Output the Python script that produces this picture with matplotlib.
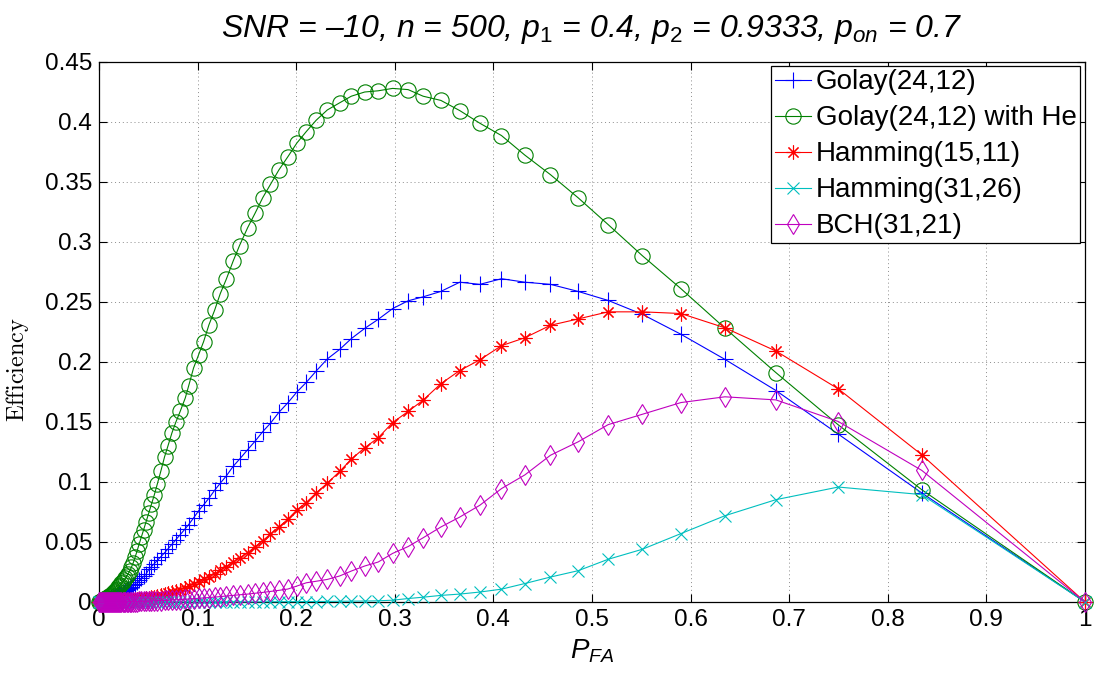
import matplotlib
matplotlib.use("Agg")
import matplotlib.pyplot as plt
from matplotlib.ticker import FixedLocator, FixedFormatter

plt.rcParams['mathtext.fontset'] = 'custom'
plt.rcParams['mathtext.it'] = 'Liberation Sans:italic'
plt.rcParams['mathtext.rm'] = 'Liberation Sans'
plt.rcParams['mathtext.sf'] = 'Liberation Sans'
plt.rcParams['font.family'] = ['Liberation Sans', 'DejaVu Sans']

# Shared P_FA grid
p_fa = [0, 0.0008, 0.0017, 0.0027, 0.0037, 0.0047, 0.0057, 0.0067, 0.0077, 0.0087,
        0.0097, 0.0107, 0.0117, 0.0128, 0.0139, 0.0150, 0.0161, 0.0172, 0.0182,
        0.0193, 0.0204, 0.0215, 0.0227, 0.0239, 0.0252, 0.0266, 0.0281, 0.0296, 0.0312,
        0.0329, 0.0347, 0.0366, 0.0386, 0.0407, 0.0429, 0.0453, 0.0478, 0.0504, 0.0532,
        0.0561, 0.0592, 0.0627,
        0.0665, 0.0699, 0.0740, 0.0780, 0.0824, 0.0875, 0.0909, 0.0959, 0.1010, 0.1061,
        0.1115, 0.1172, 0.1230, 0.1291, 0.1360, 0.1425,
        0.1508, 0.1583, 0.1661, 0.1739, 0.1824, 0.1915, 0.2007, 0.2102, 0.2203, 0.2315,
        0.2441, 0.2559, 0.2695, 0.2831, 0.2978,
        0.3135, 0.3287, 0.3467, 0.3659, 0.3862, 0.4082, 0.4319, 0.4579, 0.4860, 0.5164,
        0.5509, 0.5902, 0.6348, 0.6866, 0.7498, 0.8344, 1.0]

golay = [0, 0.0001, 0.0003, 0.0005, 0.0007, 0.0010, 0.0012, 0.0015, 0.0018, 0.0021,
         0.0024, 0.0027, 0.0030, 0.0034, 0.0038, 0.0042, 0.0046, 0.0050, 0.0054,
         0.0058, 0.0063, 0.0068, 0.0073, 0.0078, 0.0084, 0.0091, 0.0098, 0.0106, 0.0115,
         0.0126, 0.0138, 0.0151, 0.0165, 0.0180, 0.0196, 0.0214, 0.0233, 0.0272, 0.0295,
         0.0320, 0.0347, 0.0377,
         0.0410, 0.0442, 0.0481, 0.0520, 0.0561, 0.0611, 0.0645, 0.0700, 0.0760, 0.0810,
         0.0865, 0.0930, 0.0990, 0.1050, 0.1130, 0.1190,
         0.1270, 0.1340, 0.1420, 0.1490, 0.1580, 0.1660, 0.1750, 0.1830, 0.1925, 0.2025,
         0.2105, 0.2195, 0.2280, 0.2355, 0.2445,
         0.2510, 0.2543, 0.2588, 0.2665, 0.2647, 0.2694, 0.2665, 0.2647, 0.2588, 0.2513,
         0.2398, 0.2231, 0.2022, 0.1762, 0.1399, 0.0909, 0]

golay_he = [0, 0.0003, 0.0007, 0.0012, 0.0017, 0.0022, 0.0027, 0.0032, 0.0037, 0.0042,
            0.0047, 0.0052, 0.0058, 0.0065, 0.0072, 0.0080, 0.0090, 0.0100, 0.0110,
            0.0121, 0.0132, 0.0143, 0.0155, 0.0167, 0.0180, 0.0196, 0.0215, 0.0236, 0.0260,
            0.0290, 0.0326, 0.0372, 0.0425, 0.0482, 0.0540, 0.0603, 0.0670, 0.0740, 0.0815,
            0.0893, 0.0985, 0.1090,
            0.1210, 0.1300, 0.1410, 0.1500, 0.1590, 0.1700, 0.1800, 0.1950, 0.2060, 0.2170,
            0.2310, 0.2430, 0.2570, 0.2690, 0.2840, 0.2970,
            0.3120, 0.3240, 0.3370, 0.3480, 0.3600, 0.3710, 0.3825, 0.3920, 0.4015, 0.4100,
            0.4160, 0.4215, 0.4250, 0.4260, 0.4280,
            0.4270, 0.4215, 0.4180, 0.4095, 0.3990, 0.3887, 0.3724, 0.3561, 0.3368, 0.3145,
            0.2887, 0.2611, 0.2282, 0.1911, 0.1476, 0.0936, 0]

hamming15 = [0, 0.0000, 0.0000, 0.0001, 0.0001, 0.0001, 0.0002, 0.0002, 0.0003, 0.0003,
             0.0004, 0.0004, 0.0005, 0.0005, 0.0006, 0.0007, 0.0007, 0.0008, 0.0009,
             0.0009, 0.0010, 0.0011, 0.0012, 0.0012, 0.0013, 0.0014, 0.0015, 0.0016, 0.0017,
             0.0018, 0.0020, 0.0021, 0.0023, 0.0025, 0.0027, 0.0029, 0.0032, 0.0035, 0.0039,
             0.0043, 0.0049, 0.0055,
             0.0063, 0.0071, 0.0081, 0.0092, 0.0104, 0.0120, 0.0132, 0.0150, 0.0169, 0.0189,
             0.0211, 0.0236, 0.0264, 0.0295, 0.0333, 0.0366,
             0.0412, 0.0460, 0.0512, 0.0566, 0.0625, 0.0690, 0.0768, 0.0829, 0.0910, 0.0990,
             0.1088, 0.1190, 0.1286, 0.1368, 0.1495,
             0.1588, 0.1682, 0.1819, 0.1929, 0.2018, 0.2136, 0.2202, 0.2306, 0.2359, 0.2418,
             0.2418, 0.2404, 0.2285, 0.2091, 0.1776, 0.1227, 0]

hamming31 = [0, 0, 0, 0, 0, 0, 0, 0, 0, 0,
             0, 0, 0, 0, 0, 0, 0, 0, 0,
             0, 0, 0, 0, 0, 0, 0, 0, 0, 0,
             0, 0, 0, 0, 0, 0, 0, 0, 0, 0,
             0, 0, 0,
             0.0000, 0.0000, 0.0000, 0.0000, 0.0000, 0.0000, 0.0000, 0.0000, 0.0000, 0.0001,
             0.0001, 0.0001, 0.0001, 0.0001, 0.0001, 0.0001,
             0.0001, 0.0001, 0.0002, 0.0002, 0.0002, 0.0003, 0.0003, 0.0004, 0.0004, 0.0005,
             0.0006, 0.0007, 0.0008, 0.0010, 0.0015,
             0.0029, 0.0040, 0.0055, 0.0066, 0.0083, 0.0107, 0.0154, 0.0208, 0.0261, 0.0356,
             0.0439, 0.0570, 0.0719, 0.0853, 0.0958, 0.0895, 0]

bch = [0, 0, 0, 0, 0, 0, 0, 0, 0, 0,
       0, 0, 0, 0.0001, 0.0001, 0.0001, 0.0001, 0.0001, 0.0001,
       0.0001, 0.0001, 0.0001, 0.0002, 0.0002, 0.0002, 0.0002, 0.0002, 0.0003, 0.0003,
       0.0003, 0.0004, 0.0004, 0.0004, 0.0005, 0.0006, 0.0006, 0.0007, 0.0008, 0.0009,
       0.0010, 0.0011, 0.0012,
       0.0013, 0.0015, 0.0016, 0.0018, 0.0020, 0.0023, 0.0025, 0.0028, 0.0031, 0.0034,
       0.0037, 0.0041, 0.0045, 0.0050, 0.0055, 0.0060,
       0.0066, 0.0073, 0.0080, 0.0088, 0.0097, 0.0108, 0.0133, 0.0160, 0.0173, 0.0188,
       0.0217, 0.0258, 0.0300, 0.0333, 0.0405,
       0.0462, 0.0535, 0.0625, 0.0708, 0.0806, 0.0945, 0.1059, 0.1223, 0.1335, 0.1478,
       0.1564, 0.1662, 0.1710, 0.1684, 0.1504, 0.1097, 0]

labels = ['Golay(24,12)', 'Golay(24,12) with He', 'Hamming(15,11)',
          'Hamming(31,26)', 'BCH(31,21)']
x_ticks = [0, 0.1, 0.2, 0.3, 0.4, 0.5, 0.6, 0.7, 0.8, 0.9, 1]
x_tick_labels = ['0', '0.1', '0.2', '0.3', '0.4', '0.5', '0.6', '0.7', '0.8', '0.9', '1']
y_ticks = [0, 0.05, 0.1, 0.15, 0.2, 0.25, 0.3, 0.35, 0.4, 0.45]
y_tick_labels = ['0', '0.05', '0.1', '0.15', '0.2', '0.25', '0.3', '0.35', '0.4', '0.45']

series = [golay, golay_he, hamming15, hamming31, bch]
colors = ['#0000ff', '#008000', '#ff0000', '#00bfbf', '#bf00bf']
markers = ['+', 'o', (8, 2, 0), 'x', 'd']
msizes = [11, 11, 10, 9, 10]

fig = plt.figure(figsize=(10.97, 6.79), dpi=100)
ax = fig.add_axes([99 / 1097, 1 - 602 / 679, 986 / 1097, 540 / 679])

for ys, c, m, ms, lab in zip(series, colors, markers, msizes, labels):
    ax.plot(p_fa, ys, color=c, marker=m, markersize=ms, linewidth=0.8,
            markerfacecolor='none', markeredgecolor=c, markeredgewidth=0.8,
            label=lab, clip_on=False, zorder=3)

ax.set_xlim(0, 1)
ax.set_ylim(0, 0.45)
ax.xaxis.set_major_locator(FixedLocator(x_ticks))
ax.xaxis.set_major_formatter(FixedFormatter(x_tick_labels))
ax.yaxis.set_major_locator(FixedLocator(y_ticks))
ax.yaxis.set_major_formatter(FixedFormatter(y_tick_labels))
ax.tick_params(direction='in', length=6, width=0.8, top=True, right=True,
               labelsize=17.5, pad=5)
ax.grid(True, linestyle=(0, (1, 3)), color='#8c8c8c', linewidth=0.7)
for s in ax.spines.values():
    s.set_linewidth(0.9)

title = ('SNR = \u201310, n = 500, $p_{\\mathit{1}}$ = 0.4, '
         '$p_{\\mathit{2}}$ = 0.9333, $p_{on}$ = 0.7')
ax.set_title(title, fontsize=23, fontstyle='italic', pad=18)
ax.set_xlabel(r'$P_{FA}$', fontsize=20, labelpad=5)
ax.set_ylabel(r'$\mathrm{Efficiency}$', fontsize=17.5, math_fontfamily='cm')
ax.yaxis.set_label_coords((31 - 99) / 986, (602 - 369) / 540)

leg = ax.legend(loc='upper right', bbox_to_anchor=((1080 - 99) / 986, (602 - 66) / 540),
                borderaxespad=0, fontsize=20, frameon=True, fancybox=False,
                framealpha=1, edgecolor='black', handlelength=1.3,
                handletextpad=0.18, labelspacing=0.36, borderpad=0.12)
leg.get_frame().set_linewidth(0.9)

fig.savefig('out.png', dpi=100)
